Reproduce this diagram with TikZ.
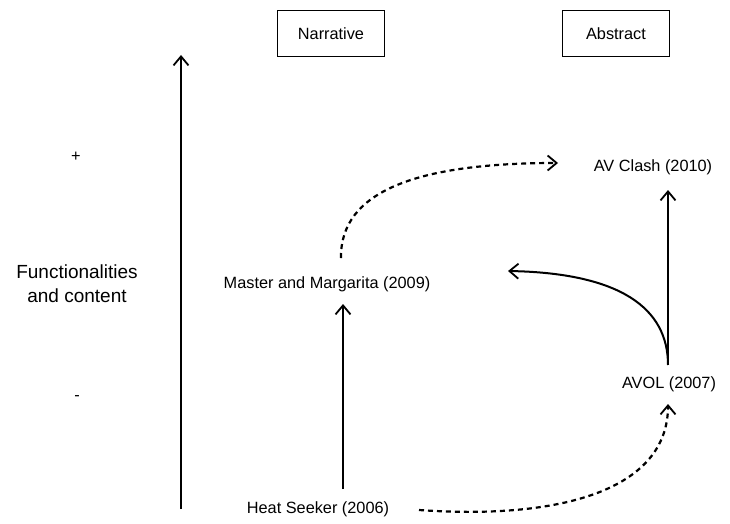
\documentclass[tikz,border=0pt]{standalone}
\usepackage{fontspec}
\setmainfont{Liberation Sans}
\usetikzlibrary{arrows.meta}
\begin{document}
\begin{tikzpicture}[x=1pt,y=-1pt,
  every node/.style={font=\fontsize{16.3}{19}\selectfont, inner sep=0pt},
  catbox/.style={draw, line width=1.8pt, minimum width=107pt, minimum height=46pt},
  work/.style={},
  link/.style={line width=2pt, -{Straight Barb[length=9pt,width=15pt,line width=1.8pt]}},
  hint/.style={link, line width=2.2pt, dash pattern=on 5pt off 4pt}]
\useasboundingbox (0,0) rectangle (730,524);

% category headers
\node[catbox] (narr) at (331,33.5) {Narrative};
\node[catbox] (abst) at (616,33.5) {Abstract};

% vertical axis
\coordinate (axb) at (181,509);
\coordinate (axt) at (181,55);
\draw[link] (axb) -- (axt);
\node (plus) at (76,157) {+};
\node (minus) at (77,398) {-};
\node[align=center, font=\fontsize{19}{24}\selectfont] (axis) at (77,284) {Functionalities\\and content};

% works
\node[work] (clash) at (653,167) {AV Clash (2010)};
\node[work] (mm) at (327,284) {Master and Margarita (2009)};
\node[work] (avol) at (669,384) {AVOL (2007)};
\node[work] (hs) at (318,509) {Heat Seeker (2006)};

% connector end points around the work labels
\coordinate (hsTop) at (343,489);
\coordinate (mmBot) at (343,304);
\coordinate (mmTop) at (341,258);
\coordinate (avolTop) at (668,365);
\coordinate (avolBot) at (668,404);
\coordinate (clashBot) at (668,190);
\coordinate (mmRight) at (508,271);
\coordinate (clashLeft) at (558,163);
\coordinate (hsRight) at (419,510);

% evolution links
\draw[link] (hsTop) -- (mmBot);
\draw[link] (avolTop) -- (clashBot);
\draw[link] (avolTop) .. controls (668,308) and (620,273) .. (mmRight);
\draw[hint] (mmTop) .. controls (340,190) and (420,163) .. (clashLeft);
\draw[hint] (hsRight) .. controls (560,520) and (668,490) .. (avolBot);
\end{tikzpicture}
\end{document}
